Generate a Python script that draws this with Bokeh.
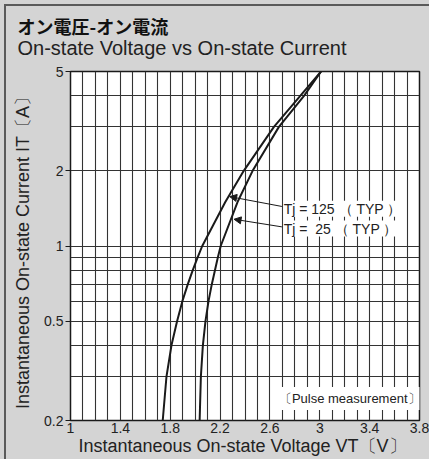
from bokeh.plotting import figure
from bokeh.layouts import column
from bokeh.models import Range1d, FixedTicker, Label, Arrow, NormalHead, InlineStyleSheet
from bokeh.core.properties import value
from bokeh.embed import file_html
from bokeh.resources import INLINE

# ---- data ----
currents = [0.2, 0.3, 0.4, 0.5, 0.6, 0.7, 0.8, 0.9, 1.0, 1.5, 2.0, 3.0, 4.0, 5.0]
v_tj125 = [1.740, 1.770, 1.810, 1.855, 1.897, 1.940, 1.981, 2.020, 2.057, 2.242, 2.390, 2.632, 2.845, 3.010]
v_tj25 = [2.036, 2.046, 2.062, 2.083, 2.107, 2.133, 2.159, 2.182, 2.205, 2.340, 2.461, 2.672, 2.875, 3.010]

x_ticks = [1.0, 1.4, 1.8, 2.2, 2.6, 3.0, 3.4, 3.8]
x_tick_labels = ["1", "1.4", "1.8", "2.2", "2.6", "3", "3.4", "3.8"]
y_ticks = [0.2, 0.5, 1.0, 2.0, 5.0]
y_tick_labels = ["0.2", "0.5", "1", "2", "5"]
y_grid_values = [0.2, 0.3, 0.4, 0.5, 0.6, 0.7, 0.8, 0.9, 1.0, 2.0, 3.0, 4.0, 5.0]
x_grid_values = [round(1.0 + 0.1 * i, 1) for i in range(29)]

title_jp = "オン電圧-オン電流"
title_en = "On-state Voltage vs On-state Current"

# ---- layout (pixels) ----
W = 429
TITLE_H = 60
PLOT_H = 399
BG = "#d4d4d4"
INK = "#1a1a1a"
FONT = "Liberation Sans"

# ---- title strip ----
tf = figure(width=W, height=TITLE_H, x_range=Range1d(0, W), y_range=Range1d(TITLE_H, 0),
            output_backend="svg", toolbar_location=None, min_border=0,
            x_axis_location=None, y_axis_location=None)
tf.grid.visible = False
tf.outline_line_color = None
tf.background_fill_color = BG
tf.border_fill_color = BG
tf.text(x=[17], y=[25], text=[title_jp], text_font=value("Noto Sans CJK JP"),
        text_font_size="18px", text_font_style="bold", text_color="#111111",
        text_baseline="middle")
tf.text(x=[17], y=[47], text=[title_en], text_font=value(FONT),
        text_font_size="20px", text_color="#222222", text_baseline="middle")

# ---- main chart ----
p = figure(width=W, height=PLOT_H,
           x_range=Range1d(1.0, 3.8), y_range=Range1d(0.2, 5.0),
           y_axis_type="log",
           output_backend="svg", toolbar_location=None,
           min_border_left=70, min_border_right=10,
           min_border_top=11, min_border_bottom=39)

p.background_fill_color = "white"
p.border_fill_color = BG
p.outline_line_color = INK
p.outline_line_width = 1.5

p.xaxis.ticker = FixedTicker(ticks=x_ticks)
p.xaxis.major_label_overrides = dict(zip(x_ticks, x_tick_labels))
p.xaxis.major_tick_out = 0
p.xaxis.major_tick_in = 0
p.xaxis.minor_tick_out = 0
p.xaxis.minor_tick_in = 0
p.xaxis.axis_line_color = None
p.xaxis.major_label_standoff = 2
p.xaxis.axis_label = "Instantaneous On-state Voltage  VT〔V〕"
p.xaxis.axis_label_standoff = 0

p.yaxis.ticker = FixedTicker(ticks=y_ticks)
p.yaxis.major_label_overrides = dict(zip(y_ticks, y_tick_labels))
p.yaxis.major_tick_out = 5
p.yaxis.major_tick_in = 0
p.yaxis.minor_tick_out = 0
p.yaxis.minor_tick_in = 0
p.yaxis.major_tick_line_color = INK
p.yaxis.axis_line_color = None
p.yaxis.major_label_standoff = 2
p.yaxis.axis_label = "Instantaneous On-state Current  IT〔A〕"
p.yaxis.axis_label_standoff = 8

for ax in (p.xaxis, p.yaxis):
    ax.major_label_text_font = FONT
    ax.major_label_text_font_size = "14px"
    ax.major_label_text_color = "#222222"
    ax.axis_label_text_font = FONT
    ax.axis_label_text_font_size = "18px"
    ax.axis_label_text_font_style = "normal"
    ax.axis_label_text_color = "#222222"

p.xgrid.ticker = FixedTicker(ticks=x_grid_values)
p.ygrid.ticker = FixedTicker(ticks=y_grid_values)
for g in (p.xgrid, p.ygrid):
    g.grid_line_color = "#333333"
    g.grid_line_width = 1.1
    g.grid_line_alpha = 1.0

p.line(v_tj125, currents, line_color=INK, line_width=2)
p.line(v_tj25, currents, line_color=INK, line_width=2)

p.add_layout(Arrow(end=NormalHead(size=7, fill_color=INK, line_color=INK, line_width=1),
                   x_start=2.696, y_start=1.44, x_end=2.277, y_end=1.577,
                   line_color=INK, line_width=1))
p.add_layout(Arrow(end=NormalHead(size=7, fill_color=INK, line_color=INK, line_width=1),
                   x_start=2.696, y_start=1.193, x_end=2.312, y_end=1.28,
                   line_color=INK, line_width=1))

p.add_layout(Label(x=2.71, y=1.409, text="Tj = 125 （ TYP ）", text_font=FONT,
                   text_font_size="14px", text_color="#222222", text_baseline="middle",
                   background_fill_color="white"))
p.add_layout(Label(x=2.71, y=1.175, text="Tj =\u00a0\u00a025 （ TYP ）", text_font=FONT,
                   text_font_size="14px", text_color="#222222", text_baseline="middle",
                   background_fill_color="white"))
p.add_layout(Label(x=2.64, y=0.245, text="〔Pulse measurement〕", text_font=FONT,
                   text_font_size="13px", text_color="#222222", text_baseline="middle",
                   background_fill_color="white", padding=4))

frame_css = InlineStyleSheet(css=(
    ":host { position: relative; }"
    ":host::after { content: ''; position: absolute; left: 4px; top: 4px; right: 0; bottom: 0;"
    " border-left: 2px solid #5a5a5a; border-top: 2px solid #5a5a5a;"
    " pointer-events: none; z-index: 100; }"
))

layout = column(column(tf), column(p), spacing=0,
                styles={"background-color": BG}, stylesheets=[frame_css])

open("out.html", "w").write(file_html(layout, INLINE))
